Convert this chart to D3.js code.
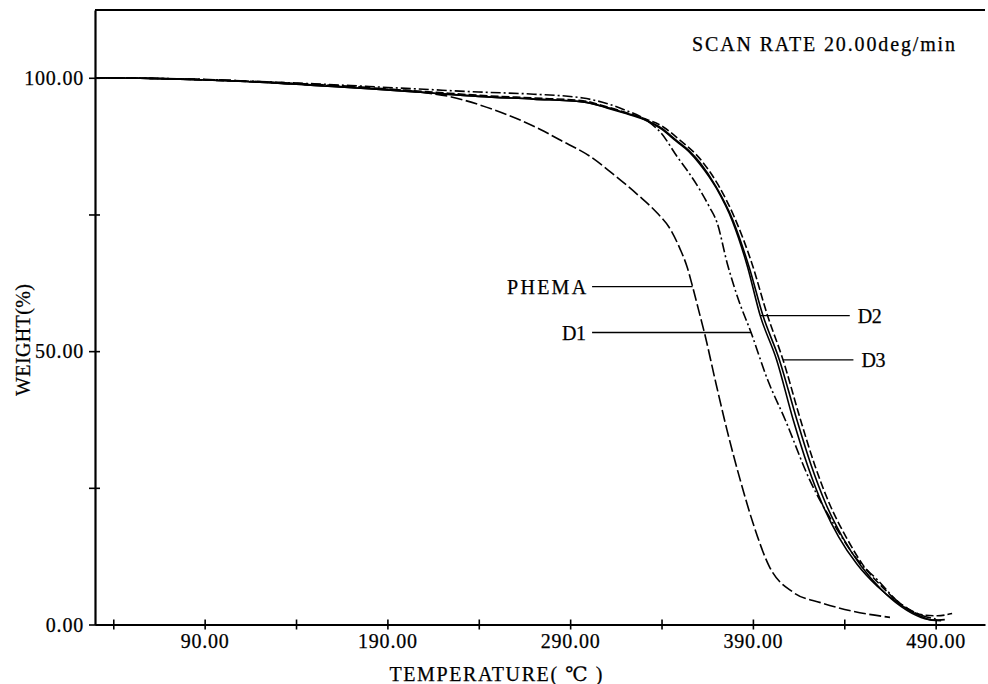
<!DOCTYPE html>
<html>
<head>
<meta charset="utf-8">
<script src="https://cdn.jsdelivr.net/npm/d3@7"></script>
<style>
  html, body { margin: 0; padding: 0; background: #fff; }
  svg { display: block; }
  text { font-family: "Liberation Serif", "DejaVu Serif", serif; fill: #000; stroke: #000; stroke-width: 0.25px; }
</style>
</head>
<body>
<svg id="chart" width="988" height="684"></svg>
<script>
// Thermogravimetric curves: weight (%) against temperature (°C)
const tempDomain = [30, 517];
const weightDomain = [0, 112.4];

const xTickValues = [40, 90, 140, 190, 240, 290, 340, 390, 440, 490];
const xTickLabels = [90, 190, 290, 390, 490];
const yTickValues = [0, 25, 50, 75, 100];
const yTickLabels = [0, 50, 100];

// PHEMA
const phemaT = [30, 60, 90, 120, 150, 180, 210, 225, 240, 261, 274, 284, 301, 312, 327, 337.5, 345, 350, 354, 357, 360.3, 363.6, 369.3, 375.8, 383, 390, 399, 412, 427, 445, 465];
const phemaW = [100, 99.9, 99.7, 99.3, 98.8, 98.2, 97.3, 96.5, 95.1, 92.5, 90.5, 88.7, 85.6, 82.8, 78.6, 75.3, 72.2, 68.8, 65.4, 61.8, 57.5, 53.2, 44.8, 35.6, 26.5, 18.6, 10.6, 5.9, 4.0, 2.4, 1.3];

// D1
const d1T = [30, 60, 90, 120, 150, 180, 210, 240, 270, 297, 310, 320, 330, 340, 348.5, 355, 361, 366, 370.4, 376, 382, 389, 398, 407.6, 421, 436, 448, 458, 470, 480, 490];
const d1W = [100, 99.9, 99.7, 99.3, 98.9, 98.4, 97.9, 97.4, 97.0, 96.3, 95.3, 94.1, 92.6, 89.8, 85.6, 82.6, 79.5, 76.5, 73.5, 66.0, 59.5, 53.4, 44.8, 37.5, 26.5, 17.4, 11.5, 8.2, 4.0, 2.0, 1.0];

// D2
const d2T = [30, 60, 90, 120, 150, 180, 210, 240, 270, 297, 310, 320, 330, 340, 348, 355, 361, 370, 379, 387, 394, 403, 412, 420, 428, 437, 447, 458, 470, 480, 488, 493];
const d2W = [100, 99.9, 99.6, 99.2, 98.6, 98.0, 97.3, 96.6, 96.1, 95.6, 94.6, 93.6, 92.5, 90.6, 88.4, 86.5, 84.2, 79.8, 73.6, 65.5, 56.5, 48.4, 37.5, 29.0, 22.0, 16.0, 11.0, 7.0, 3.8, 1.8, 0.8, 0.7];

// second solid trace (no label)
const extraT = [30, 60, 90, 120, 150, 180, 210, 240, 270, 297, 310, 320, 330, 340, 348, 355, 361, 370, 379, 388, 395.5, 404.5, 414, 421.5, 430, 439, 449, 460, 471, 482, 489, 495];
const extraW = [100, 99.9, 99.6, 99.2, 98.6, 98.0, 97.3, 96.6, 96.1, 95.6, 94.5, 93.5, 92.4, 90.8, 88.6, 86.7, 84.5, 80.0, 74.0, 65.3, 56.5, 48.4, 37.5, 29.5, 22.0, 16.0, 10.8, 6.5, 3.3, 1.3, 0.8, 0.9];

// D3
const d3T = [30, 60, 90, 120, 150, 180, 210, 240, 270, 297, 310, 320, 330, 340, 349, 362, 371, 380, 389.5, 398, 406.5, 416, 424, 432, 441, 450, 461, 472, 482, 491, 499];
const d3W = [100, 99.9, 99.6, 99.2, 98.7, 98.1, 97.5, 96.8, 96.3, 95.8, 94.7, 93.7, 92.6, 91.2, 88.9, 84.8, 80.4, 74.4, 66.0, 56.5, 48.4, 37.5, 29.0, 22.0, 16.0, 11.0, 6.8, 3.5, 1.8, 1.6, 2.0];

// callout labels: the weight level of each leader and where its text sits
const labelNames   = ["PHEMA", "D1", "D2", "D3"];
const labelWeights = [61.8, 53.4, 56.5, 48.4];
const labelOuterT  = [302, 302, 443, 445];
const labelSide    = ["left", "left", "right", "right"];

const series = [
  { name: "PHEMA", T: phemaT, W: phemaW, dash: "12,3.5" },
  { name: "D1",    T: d1T,    W: d1W,    dash: "10,3,2,3" },
  { name: "D2",    T: d2T,    W: d2W,    dash: null },
  { name: "extra", T: extraT, W: extraW, dash: null },
  { name: "D3",    T: d3T,    W: d3W,    dash: "8,3" }
];

const svg = d3.select("#chart");
const plotLeft = 95, plotRight = 985, plotTop = 10, plotBottom = 624.5;
const fontFamily = '"Liberation Serif", "DejaVu Serif", serif';

const x = d3.scaleLinear().domain(tempDomain).range([plotLeft, plotRight]);
const y = d3.scaleLinear().domain(weightDomain).range([plotBottom, plotTop]);

const fmt = d3.format(".2f");

// x axis
const gx = svg.append("g")
  .attr("transform", `translate(0,${plotBottom})`)
  .call(d3.axisBottom(x)
    .tickValues(xTickValues)
    .tickSizeOuter(0)
    .tickFormat(d => xTickLabels.includes(d) ? fmt(d) : ""));
gx.select(".domain").attr("stroke", "#000").attr("stroke-width", 2.2);
gx.selectAll(".tick line").attr("y1", -5).attr("y2", 5).attr("stroke-width", 1.6);
gx.selectAll(".tick text")
  .attr("y", 9).attr("dy", "0.71em")
  .style("font-family", fontFamily)
  .style("font-size", "20px")
  .style("letter-spacing", "0.8px");

// y axis
const gy = svg.append("g")
  .attr("transform", `translate(${plotLeft},0)`)
  .call(d3.axisLeft(y)
    .tickValues(yTickValues)
    .tickSizeOuter(0)
    .tickFormat(d => yTickLabels.includes(d) ? fmt(d) : ""));
gy.select(".domain").attr("stroke", "#000").attr("stroke-width", 2.2);
gy.selectAll(".tick line").attr("x1", -6).attr("x2", 5).attr("stroke-width", 1.6);
gy.selectAll(".tick text")
  .attr("x", -11).attr("dy", "0.34em")
  .style("font-family", fontFamily)
  .style("font-size", "20px")
  .style("letter-spacing", "0.8px");

// top frame line
svg.append("line")
  .attr("x1", x(tempDomain[0])).attr("x2", x(tempDomain[1]))
  .attr("y1", y(weightDomain[1])).attr("y2", y(weightDomain[1]))
  .attr("stroke", "#000").attr("stroke-width", 2.2);

// curves
const line = d3.line()
  .x(d => x(d[0]))
  .y(d => y(d[1]))
  .curve(d3.curveMonotoneX);

svg.append("g").selectAll("path")
  .data(series)
  .join("path")
  .attr("d", s => line(s.T.map((t, i) => [t, s.W[i]])))
  .attr("fill", "none")
  .attr("stroke", "#000")
  .attr("stroke-width", 1.6)
  .attr("stroke-dasharray", s => s.dash);

// temperature where a curve first falls to a given weight
function tempAtWeight(s, w) {
  for (let i = 1; i < s.W.length; i++) {
    if (s.W[i - 1] >= w && s.W[i] <= w) {
      const f = (s.W[i - 1] - w) / (s.W[i - 1] - s.W[i]);
      return s.T[i - 1] + f * (s.T[i] - s.T[i - 1]);
    }
  }
  return s.T[s.T.length - 1];
}

// callout leaders and labels
const callouts = labelNames.map((name, i) => {
  const s = series.find(d => d.name === name);
  return { name, w: labelWeights[i], tCurve: tempAtWeight(s, labelWeights[i]), tOuter: labelOuterT[i], side: labelSide[i] };
});

const cg = svg.append("g");
cg.selectAll("line")
  .data(callouts)
  .join("line")
  .attr("x1", d => x(d.tOuter))
  .attr("x2", d => x(d.tCurve))
  .attr("y1", d => y(d.w))
  .attr("y2", d => y(d.w))
  .attr("stroke", "#000")
  .attr("stroke-width", 1.4);

cg.selectAll("text")
  .data(callouts)
  .join("text")
  .attr("x", d => d.side === "left" ? x(d.tOuter) - 6 : x(d.tOuter) + 8)
  .attr("y", d => y(d.w))
  .attr("dy", "0.35em")
  .attr("text-anchor", d => d.side === "left" ? "end" : "start")
  .attr("textLength", d => d.name.length > 2 ? 79 : 24)
  .style("font-size", "20px")
  .text(d => d.name);

// axis titles
svg.append("text")
  .attr("x", 496).attr("y", 681)
  .attr("text-anchor", "middle")
  .attr("textLength", 213)
  .style("font-size", "20px")
  .text("TEMPERATURE( ℃ )");

svg.append("text")
  .attr("transform", "translate(30,340) rotate(-90)")
  .attr("text-anchor", "middle")
  .attr("textLength", 112)
  .style("font-size", "20px")
  .text("WEIGHT(%)");

// scan rate note
svg.append("text")
  .attr("x", 692).attr("y", 51)
  .attr("textLength", 263)
  .style("font-size", "20px")
  .text("SCAN RATE 20.00deg/min");
</script>
</body>
</html>
